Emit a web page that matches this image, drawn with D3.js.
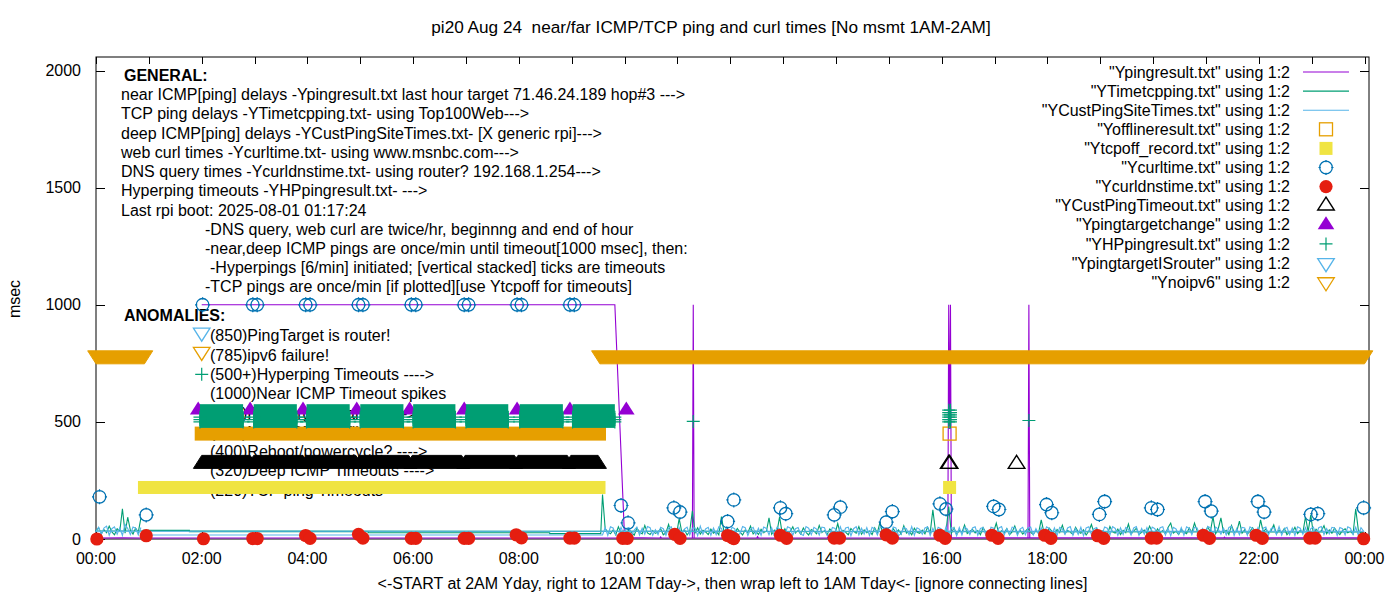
<!DOCTYPE html>
<html><head><meta charset="utf-8">
<script src="https://cdn.jsdelivr.net/npm/d3@7"></script>
<style>
body{margin:0;background:#fff}
svg{display:block}
text{font-family:"Liberation Sans",Arial,Helvetica,sans-serif;font-size:16px;fill:#000}
</style>
</head><body>
<svg id="c" width="1400" height="600"></svg>
<script>
// ---------------- DATA ----------------
const titleText = "pi20 Aug 24  near/far ICMP/TCP ping and curl times [No msmt 1AM-2AM]";
const xLabelText = "<-START at 2AM Yday, right to 12AM Tday->, then wrap left to 1AM Tday<- [ignore connecting lines]";
const yLabelText = "msec";
const xTickHours = [0,2,4,6,8,10,12,14,16,18,20,22,24];
const xTickLabels = ["00:00","02:00","04:00","06:00","08:00","10:00","12:00","14:00","16:00","18:00","20:00","22:00","00:00"];
const yTicks = [0,500,1000,1500,2000];

const generalLines = [
 "near ICMP[ping] delays -Ypingresult.txt last hour target 71.46.24.189 hop#3 --->",
 "TCP ping delays -YTimetcpping.txt- using Top100Web--->",
 "deep ICMP[ping] delays -YCustPingSiteTimes.txt- [X generic rpi]--->",
 "web curl times -Ycurltime.txt- using www.msnbc.com--->",
 "DNS query times -Ycurldnstime.txt- using router? 192.168.1.254--->",
 "Hyperping timeouts -YHPpingresult.txt- --->",
 "Last rpi boot: 2025-08-01 01:17:24"];
const noteLines = [
 "-DNS query, web curl are twice/hr, beginnng and end of hour",
 "-near,deep ICMP pings are once/min until timeout[1000 msec], then:",
 "-Hyperpings [6/min] initiated; [vertical stacked] ticks are timeouts",
 "-TCP pings are once/min [if plotted][use Ytcpoff for timeouts]"];
const anomalyLines = [
 "(850)PingTarget is router!",
 "(785)ipv6 failure!",
 "(500+)Hyperping Timeouts ---->",
 "(1000)Near ICMP Timeout spikes",
 "(550)Ping target change ---->",
 "(450)Near ICMP Offline ---->",
 "(400)Reboot/powercycle? ---->",
 "(320)Deep ICMP Timeouts ---->",
 "(220)TCP ping Timeouts"];

const legendLabels = [
 '"Ypingresult.txt" using 1:2','"YTimetcpping.txt" using 1:2','"YCustPingSiteTimes.txt" using 1:2',
 '"Yofflineresult.txt" using 1:2','"Ytcpoff_record.txt" using 1:2','"Ycurltime.txt" using 1:2',
 '"Ycurldnstime.txt" using 1:2','"YCustPingTimeout.txt" using 1:2','"Ypingtargetchange" using 1:2',
 '"YHPpingresult.txt" using 1:2','"YpingtargetISrouter" using 1:2','"Ynoipv6" using 1:2'];

// near ICMP ping (file order, wraps at midnight)
const pingResult = [["02:00",1000],["09:49",1000],["10:00",6],["10:40",4],["10:41",9],["10:42",4],["11:17",5],["11:18",1000],["11:19",5],
 ["12:30",4],["12:31",10],["12:32",4],["13:50",5],["13:51",9],["13:52",4],["15:10",4],["15:11",8],["15:12",4],
 ["16:07",5],["16:08",1000],["16:09",470],["16:10",1000],["16:11",5],["17:38",5],["17:39",1000],["17:40",5],
 ["19:00",4],["19:01",9],["19:02",4],["21:20",4],["21:21",8],["21:22",4],["23:59",5],["00:00",4],["00:30",5],["00:53",4]];

// TCP ping: flat part, then 3-minute samples
const tcpFlat = [["00:53",37],["01:46",37],["01:46",31],["05:09",31],["05:09",27],["08:35",27],["08:35",23],["09:33",23],["09:35",190]];
const tcpDayStart = "09:38";
const tcpDay = [45,30,22,38,18,52,25,34,20,41,28,16,47,30,22,58,26,19,36,24,
 31,44,18,27,62,23,35,20,87,29,40,17,33,120,26,48,21,37,30,19,
 42,25,33,18,96,28,50,21,36,24,45,30,17,39,27,55,22,34,19,41,
 26,32,90,20,38,29,95,23,44,18,31,52,25,36,21,47,28,17,40,33,
 22,58,27,35,19,43,30,24,66,21,37,28,18,45,32,25,53,20,39,27,
 34,19,48,26,72,23,36,30,17,44,28,39,21,57,25,33,18,46,29,24,
 38,22,51,27,125,31,20,43,26,35,139,24,48,19,37,28,60,23,33,41,
 26,36,18,49,29,23,40,31,68,20,35,27,44,18,30,56,24,38,21,33,
 45,28,19,37,25,82,30,22,47,34,18,41,27,59,23,36,29,20,50,31,
 24,39,17,33,62,26,44,21,35,28,18,53,30,25,42,19,37,27,64,22,
 34,46,20,29,38,24,55,31,18,43,27,36,22,49,68,25,33,19,41,30,
 23,47,28,68,35,20,39,26,52,31,96,22,44,90,27,37,19,58,29,33,
 76,25,40,21,34,48,28,19,82,30,43,24,36,61,22,38,27,45,18,32,
 29,50,23,37,26,95,31,103,20,42,28,35,57,22,39,25,47,30,19,36,
 44,27,33,21,129,38,24,30];
const tcpNightStart = "00:00";
const tcpNight = [35,48,22,40,27,55,30,18,44,33,129,25,93,38,21,46,29,90];

// deep ICMP (CustPingSiteTimes)
const custFlat = [["00:53",17],["09:35",17]];
const custDayStart = "09:38";
const custDay = [48,15,52,47,18,16,50,22,45,49,14,38,51,17,46,20,53,48,16,40,
 19,50,44,15,47,52,18,21,49,16,42,51,17,46,48,14,55,20,43,50,
 16,47,19,52,45,15,49,18,50,44,17,22,53,48,15,41,50,19,46,16,
 51,45,18,48,14,50,43,20,17,52,47,16,44,49,21,15,53,46,18,50,
 42,17,51,48,15,20,49,45,16,52,19,47,50,14,44,53,18,46,21,49,
 15,50,43,17,48,52,16,45,19,51,47,15,22,49,44,18,53,16,48,41,
 20,47,52,15,46,18,50,44,16,53,21,48,45,14,49,17,51,43,19,47,
 52,16,45,49,18,15,50,46,20,47,53,17,44,19,51,48,15,42,50,18,
 46,51,17,44,21,49,16,52,45,18,48,15,50,43,20,47,53,16,45,19,
 50,14,47,52,18,44,49,16,21,51,46,17,53,45,15,48,19,50,42,17,
 47,53,16,45,20,49,15,51,44,18,48,52,17,46,14,50,43,21,49,16,
 52,45,18,50,47,15,44,19,53,48,16,51,42,20,46,17,49,54,15,45,
 18,50,47,16,52,44,21,48,15,46,51,17,45,49,19,53,16,43,50,18,
 47,15,52,46,20,49,17,44,51,16,48,53,18,45,22,50,47,15,49,44,
 17,52,46,19,50,16,48,33];
const custNightStart = "00:00";
const custNight = [33,50,18,47,55,16,44,52,20,48,15,62,45,19,51,46,17,49];
const sampleStepMin = 3;

// Yofflineresult (open squares): dense runs and single points
const offlineRuns = [["02:00","09:31",450]];
const offlinePts = [["16:09",450]];
// Ytcpoff_record (filled squares)
const tcpoffRuns = [["00:55","09:31",220]];
const tcpoffPts = [["16:09",220]];
// Ycurltime (open circles)
const curlPts = [["00:04",180],["00:57",103],["02:01",1000],
 ["02:58",1000],["03:03",1000],["03:58",1000],["04:03",1000],["04:58",1000],["05:03",1000],["05:58",1000],["06:03",1000],
 ["06:58",1000],["07:03",1000],["07:58",1000],["08:03",1000],["08:58",1000],["09:03",1000],
 ["09:56",143],["10:04",69],["10:56",133],["11:03",115],["11:57",75],["12:04",167],["12:57",133],["13:03",108],
 ["13:58",103],["14:05",136],["14:57",72],["15:04",117],["15:58",150],["16:05",128],["16:59",139],["17:05",126],
 ["17:59",147],["18:05",112],["18:59",105],["19:05",160],["19:58",133],["20:05",126],["20:59",160],["21:06",119],
 ["21:59",160],["22:06",115],["22:59",105],["23:07",108],["23:59",133]];
// Ycurldnstime (filled circles)
const dnsPts = [["00:01",0],["00:57",14],["02:02",1],["02:58",2],["03:03",2],["03:58",15],["04:03",3],["04:58",20],["05:03",4],
 ["05:58",3],["06:03",3],["06:58",3],["07:03",3],["07:57",18],["08:03",5],["08:58",4],["09:03",4],["09:58",3],["10:03",3],
 ["10:57",20],["11:03",3],["11:57",15],["12:01",8],["12:04",2],["12:57",16],["13:04",3],["13:58",4],["14:04",4],
 ["14:57",18],["15:04",4],["15:58",16],["16:04",3],["16:57",16],["17:04",3],["17:57",16],["18:04",3],["18:57",14],["19:04",3],
 ["19:58",4],["20:04",4],["20:57",16],["21:04",3],["21:57",16],["22:04",3],["22:58",4],["23:04",4],["23:59",1]];
// YCustPingTimeout (open triangles)
const custTimeoutRuns = [["02:00","02:55",320],["02:59","03:55",320],["03:59","04:55",320],["04:59","05:55",320],
 ["05:59","06:55",320],["06:59","07:55",320],["07:59","08:55",320],["08:59","09:30",320]];
const custTimeoutPts = [["16:08",320],["16:09",320],["17:25",320]];
// Ypingtargetchange (filled triangles)
const targetChangePts = [["01:56",550],["02:55",550],["03:55",550],["04:56",550],["05:56",550],["06:58",550],["07:58",550],["08:58",550],["10:02",550]];
// YHPpingresult (plus): stacked dense runs [start,end,low,high] and single points
const hpRuns = [["01:58","02:47",500,550],["02:59","03:48",500,550],["03:59","04:48",500,550],["05:00","05:49",500,550],
 ["06:00","06:48",500,550],["07:00","07:48",500,550],["08:01","08:50",500,550],["09:01","09:49",500,550]];
const hpEdgeLevels = [500,510,520];
const hpPts = [["11:18",502],["16:08",500],["16:08",510],["16:08",520],["16:08",530],["16:08",540],["16:08",550],
 ["16:10",500],["16:10",510],["16:10",520],["16:10",530],["16:10",540],["16:10",550],["17:39",506]];
// YpingtargetISrouter: no points this day
const isRouterPts = [];
// Ynoipv6 (open down-triangles) dense runs
const noipv6Runs = [["00:00","00:55",785],["09:32","24:00",785]];

// ---------------- DRAWING ----------------
const C = {purple:"#9400d3", green:"#009e73", lblue:"#56b4e9", orange:"#e69f00", yellow:"#f0e442", blue:"#0072b2", red:"#e51e10", black:"#000000"};
const toH = s => { const p = s.split(":").map(Number); return p[0] + p[1]/60; };
const svg = d3.select("#c");
const X0 = 96, X1 = 1369, Y0 = 539, Y1 = 57;
const x = d3.scaleLinear().domain([0, 24.085]).range([X0, X1]);
const y = d3.scaleLinear().domain([0, 2058]).range([Y0, Y1]);

const TH = 8.67, TB = 4.33, TW = 8.3, SQ = 6.5, CR = 6.3, PL = 6.5;
const triUp = (cx, cy) => `M${cx},${cy-TH}L${cx-TW},${cy+TB}L${cx+TW},${cy+TB}Z`;
const triDown = (cx, cy) => `M${cx-TW},${cy-TB}L${cx+TW},${cy-TB}L${cx},${cy+TH}Z`;
const upBand = (a, b, cy) => `M${a-TW},${cy+TB}L${a},${cy-TH}L${b},${cy-TH}L${b+TW},${cy+TB}Z`;
const downBand = (a, b, cy) => `M${a-TW},${cy-TB}L${b+TW},${cy-TB}L${b},${cy+TH}L${a},${cy+TH}Z`;

function txt(g, tx, ty, s, opt = {}) {
  return g.append("text").attr("x", tx).attr("y", ty).attr("dy", "0.35em")
    .attr("text-anchor", opt.anchor || "start").attr("font-weight", opt.bold ? "bold" : null)
    .style("font-size", opt.size ? opt.size + "px" : null)
    .style("white-space", "pre").text(s);
}
function plus(g, cx, cy, col) {
  g.append("path").attr("d", `M${cx-PL},${cy}H${cx+PL}M${cx},${cy-PL}V${cy+PL}`).attr("stroke", col).attr("stroke-width", 1.2).attr("fill", "none");
}
function circ(g, cx, cy, col) {
  g.append("circle").attr("cx", cx).attr("cy", cy).attr("r", CR).attr("fill", "none").attr("stroke", col).attr("stroke-width", 1.3);
  g.append("path").attr("d", `M${cx-CR-1.2},${cy}h2.2M${cx+CR-1},${cy}h2.2M${cx},${cy-CR-1.2}v2.2M${cx},${cy+CR-1}v2.2`).attr("stroke", col).attr("stroke-width", 1.2);
}

// --- annotation labels (behind data)
const gl = svg.append("g");
txt(gl, 124, 75, "GENERAL:", {bold: true});
generalLines.forEach((s, i) => txt(gl, 121, 94.5 + 19.25 * i, s));
noteLines.forEach((s, i) => txt(gl, i === 2 ? 210 : 205, 229 + 19.2 * i, s));
txt(gl, 124, 315.5, "ANOMALIES:", {bold: true});
anomalyLines.forEach((s, i) => txt(gl, 210, 335.7 + 19.3 * i, s));
const mx = x(2);
gl.append("path").attr("d", triDown(mx, 332.5)).attr("fill", "none").attr("stroke", C.lblue).attr("stroke-width", 1.3);
gl.append("path").attr("d", triDown(mx, 351.8)).attr("fill", "none").attr("stroke", C.orange).attr("stroke-width", 1.3);
plus(gl, mx, 374.3, C.green);

// --- frame, ticks, tick labels, axis titles
const ga = svg.append("g");
ga.append("rect").attr("x", X0).attr("y", Y1).attr("width", X1 - X0).attr("height", Y0 - Y1).attr("fill", "none").attr("stroke", "#000").attr("stroke-width", 1);
d3.range(0, 25, 1).forEach(h => {
  const tx = Math.round(x(h)) + 0.5, len = 7;
  ga.append("path").attr("d", `M${tx},${Y0}v${-len}M${tx},${Y1}v${len}`).attr("stroke", "#000");
});
xTickHours.forEach((h, i) => txt(ga, x(h), 558, xTickLabels[i], {anchor: "middle"}));
yTicks.forEach(v => {
  const ty = Math.round(y(v)) + 0.5;
  ga.append("path").attr("d", `M${X0},${ty}h9M${X1},${ty}h-9`).attr("stroke", "#000");
  txt(ga, 81, y(v), String(v), {anchor: "end"});
});
txt(ga, 711, 27, titleText, {anchor: "middle", size: 17.2});
txt(ga, (X0 + X1) / 2, 583, xLabelText, {anchor: "middle"});
ga.append("text").attr("transform", "translate(14,299) rotate(-90)").attr("dy", "0.35em").attr("text-anchor", "middle").text(yLabelText);

// --- data
const gd = svg.append("g");
const line = d3.line().x(d => x(toH(d[0]))).y(d => y(d[1]));
const sampled = (start, vals) => vals.map((v, i) => { const m = Math.round(toH(start) * 60) + i * sampleStepMin; return [`${Math.floor(m/60)}:${m%60}`, v]; });
const tcpSeries = tcpFlat.concat(sampled(tcpDayStart, tcpDay), sampled(tcpNightStart, tcpNight));
const custSeries = custFlat.concat(sampled(custDayStart, custDay), sampled(custNightStart, custNight));
[[pingResult, C.purple], [tcpSeries, C.green], [custSeries, C.lblue]].forEach(([d, col]) => {
  gd.append("path").datum(d).attr("d", line).attr("fill", "none").attr("stroke", col).attr("stroke-width", 1.1).attr("stroke-linejoin", "miter");
});
// offline open squares
offlineRuns.forEach(r => gd.append("rect").attr("x", x(toH(r[0])) - SQ - 0.5).attr("y", y(r[2]) - SQ - 0.5)
  .attr("width", x(toH(r[1])) - x(toH(r[0])) + 2 * SQ + 1).attr("height", 2 * SQ + 1).attr("fill", C.orange));
offlinePts.forEach(p => gd.append("rect").attr("x", x(toH(p[0])) - SQ).attr("y", y(p[1]) - SQ).attr("width", 2 * SQ).attr("height", 2 * SQ)
  .attr("fill", "none").attr("stroke", C.orange).attr("stroke-width", 1.3));
// tcpoff filled squares
tcpoffRuns.forEach(r => gd.append("rect").attr("x", x(toH(r[0])) - SQ).attr("y", y(r[2]) - SQ)
  .attr("width", x(toH(r[1])) - x(toH(r[0])) + 2 * SQ).attr("height", 2 * SQ).attr("fill", C.yellow));
tcpoffPts.forEach(p => gd.append("rect").attr("x", x(toH(p[0])) - SQ).attr("y", y(p[1]) - SQ).attr("width", 2 * SQ).attr("height", 2 * SQ).attr("fill", C.yellow));
// curl circles
curlPts.forEach(p => circ(gd, x(toH(p[0])), y(p[1]), C.blue));
// dns filled circles
dnsPts.forEach(p => gd.append("circle").attr("cx", x(toH(p[0]))).attr("cy", y(p[1])).attr("r", 6.6).attr("fill", C.red));
// cust ping timeout triangles
custTimeoutRuns.forEach(r => gd.append("path").attr("d", upBand(x(toH(r[0])), x(toH(r[1])), y(r[2]))).attr("fill", C.black).attr("stroke", C.black).attr("stroke-width", 1));
custTimeoutPts.forEach(p => gd.append("path").attr("d", triUp(x(toH(p[0])), y(p[1]))).attr("fill", "none").attr("stroke", C.black).attr("stroke-width", 1.4));
// ping target change filled triangles
targetChangePts.forEach(p => gd.append("path").attr("d", triUp(x(toH(p[0])), y(p[1]))).attr("fill", C.purple));
// HP pluses
hpRuns.forEach(r => {
  const a = x(toH(r[0])), b = x(toH(r[1]));
  gd.append("rect").attr("x", a).attr("y", y(r[3]) - 6).attr("width", b - a).attr("height", y(r[2]) - y(r[3]) + 12).attr("fill", C.green);
  hpEdgeLevels.forEach(v => { plus(gd, a, y(v), C.green); plus(gd, b, y(v), C.green); });
});
hpPts.forEach(p => plus(gd, x(toH(p[0])), y(p[1]), C.green));
isRouterPts.forEach(p => gd.append("path").attr("d", triDown(x(toH(p[0])), y(p[1]))).attr("fill", "none").attr("stroke", C.lblue));
// noipv6 down triangles
noipv6Runs.forEach(r => gd.append("path").attr("d", downBand(x(toH(r[0])), x(toH(r[1])), y(r[2]))).attr("fill", C.orange).attr("stroke", C.orange).attr("stroke-width", 1));

// --- legend
const gk = svg.append("g");
const legendStyles = [
 {t:"line", c:C.purple}, {t:"line", c:C.green}, {t:"line", c:C.lblue},
 {t:"sq", c:C.orange}, {t:"fsq", c:C.yellow}, {t:"circ", c:C.blue}, {t:"fcirc", c:C.red},
 {t:"tri", c:C.black}, {t:"ftri", c:C.purple}, {t:"plus", c:C.green}, {t:"dtri", c:C.lblue}, {t:"dtri", c:C.orange}];
legendLabels.forEach((s, i) => {
  const ly = 72 + 19.1 * i, lx = 1326, st = legendStyles[i];
  txt(gk, 1290, ly, s, {anchor: "end"});
  if (st.t === "line") gk.append("path").attr("d", `M1303,${ly}H1349`).attr("stroke", st.c).attr("stroke-width", 1.1);
  if (st.t === "sq") gk.append("rect").attr("x", lx - SQ).attr("y", ly - SQ).attr("width", 2*SQ).attr("height", 2*SQ).attr("fill", "none").attr("stroke", st.c).attr("stroke-width", 1.3);
  if (st.t === "fsq") gk.append("rect").attr("x", lx - SQ).attr("y", ly - SQ).attr("width", 2*SQ).attr("height", 2*SQ).attr("fill", st.c);
  if (st.t === "circ") circ(gk, lx, ly, st.c);
  if (st.t === "fcirc") gk.append("circle").attr("cx", lx).attr("cy", ly).attr("r", 6.6).attr("fill", st.c);
  if (st.t === "tri") gk.append("path").attr("d", triUp(lx, ly)).attr("fill", "none").attr("stroke", st.c).attr("stroke-width", 1.4);
  if (st.t === "ftri") gk.append("path").attr("d", triUp(lx, ly)).attr("fill", st.c);
  if (st.t === "plus") plus(gk, lx, ly, st.c);
  if (st.t === "dtri") gk.append("path").attr("d", triDown(lx, ly)).attr("fill", "none").attr("stroke", st.c).attr("stroke-width", 1.3);
});
</script>
</body></html>
